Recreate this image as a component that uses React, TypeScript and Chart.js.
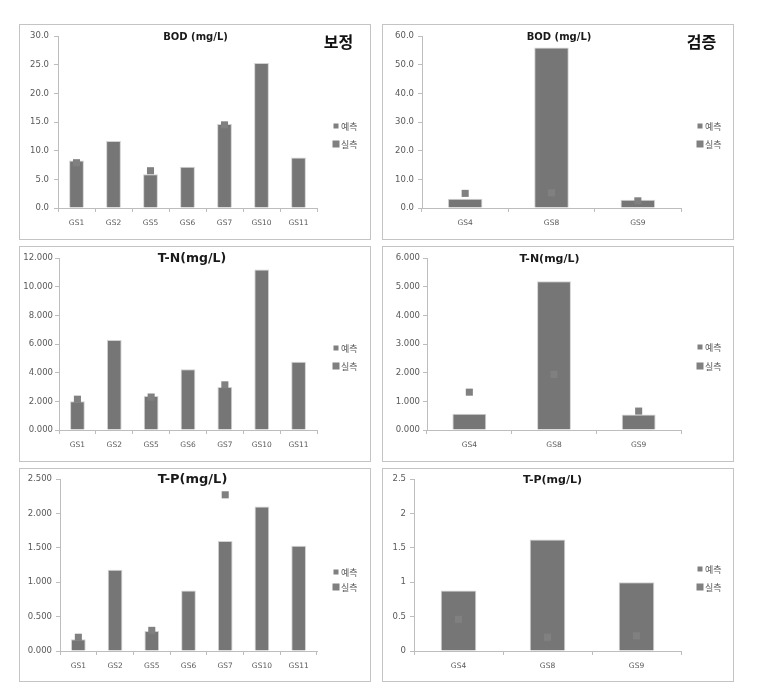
import React, { useEffect, useRef } from 'react';
import { Chart, registerables } from 'chart.js';

Chart.register(...registerables);

// ---------- data ----------
const CAL_SITES = ['GS1', 'GS2', 'GS5', 'GS6', 'GS7', 'GS10', 'GS11'];
const VAL_SITES = ['GS4', 'GS8', 'GS9'];

const LABEL_PRED = '예측';
const LABEL_MEAS = '실측';

const BOD_CAL_MEAS = [8.3, 11.7, 5.9, 7.2, 14.65, 25.3, 8.8];
const BOD_CAL_PRED = [7.9, null, 6.5, null, 14.5, null, null];
const BOD_VAL_MEAS = [3.2, 56.0, 2.9];
const BOD_VAL_PRED = [5.1, 5.3, 2.5];

const TN_CAL_MEAS = [2.0, 6.28, 2.37, 4.23, 3.0, 11.2, 4.77];
const TN_CAL_PRED = [2.15, null, 2.3, null, 3.15, null, null];
const TN_VAL_MEAS = [0.57, 5.19, 0.54];
const TN_VAL_PRED = [1.32, 1.94, 0.66];

const TP_CAL_MEAS = [0.17, 1.18, 0.29, 0.88, 1.6, 2.1, 1.53];
const TP_CAL_PRED = [0.2, null, 0.3, null, 2.27, null, null];
const TP_VAL_MEAS = [0.88, 1.62, 1.0];
const TP_VAL_PRED = [0.46, 0.2, 0.22];

const BOD_CAL_TICKS = ['0.0', '5.0', '10.0', '15.0', '20.0', '25.0', '30.0'];
const BOD_VAL_TICKS = ['0.0', '10.0', '20.0', '30.0', '40.0', '50.0', '60.0'];
const TN_CAL_TICKS = ['0.000', '2.000', '4.000', '6.000', '8.000', '10.000', '12.000'];
const TN_VAL_TICKS = ['0.000', '1.000', '2.000', '3.000', '4.000', '5.000', '6.000'];
const TP_CAL_TICKS = ['0.000', '0.500', '1.000', '1.500', '2.000', '2.500'];
const TP_VAL_TICKS = ['0', '0.5', '1', '1.5', '2', '2.5'];

// ---------- styles ----------
const BAR = '#767676';
const MARK = '#808080';
const AXIS = '#bdbdbd';
const TXT = '#595959';
const LATIN = '"DejaVu Sans", "Liberation Sans", sans-serif';
const KOR = '"Noto Sans CJK KR", sans-serif';

type Panel = {
  key: string;
  x: number; y: number; w: number; h: number;
  cats: string[];
  meas: (number | null)[];
  pred: (number | null)[];
  ticks: string[];
  max: number; step: number;
  title: string; titleSize: number; titleX: number; titleY: number;
  corner?: string;
  left: number; right: number; top: number; bottom: number;
  yPad: number;
  legY1: number; legY2: number;
};

const PANELS: Panel[] = [
  { key: 'p1', x: 19, y: 24, w: 352, h: 216, cats: CAL_SITES, meas: BOD_CAL_MEAS, pred: BOD_CAL_PRED, ticks: BOD_CAL_TICKS, max: 30, step: 5,
    title: 'BOD (mg/L)', titleSize: 10, titleX: 175.5, titleY: 12.5, corner: '보정', left: 38, right: 297, top: 11, bottom: 183, yPad: 5, legY1: 101, legY2: 119 },
  { key: 'p2', x: 382, y: 24, w: 352, h: 216, cats: VAL_SITES, meas: BOD_VAL_MEAS, pred: BOD_VAL_PRED, ticks: BOD_VAL_TICKS, max: 60, step: 10,
    title: 'BOD (mg/L)', titleSize: 10, titleX: 176, titleY: 12.5, corner: '검증', left: 39, right: 298, top: 11, bottom: 183, yPad: 4, legY1: 101, legY2: 119 },
  { key: 'p3', x: 19, y: 246, w: 352, h: 216, cats: CAL_SITES, meas: TN_CAL_MEAS, pred: TN_CAL_PRED, ticks: TN_CAL_TICKS, max: 12, step: 2,
    title: 'T-N(mg/L)', titleSize: 12.5, titleX: 172, titleY: 12, left: 39, right: 297, top: 11, bottom: 183, yPad: 2, legY1: 101, legY2: 119 },
  { key: 'p4', x: 382, y: 246, w: 352, h: 216, cats: VAL_SITES, meas: TN_VAL_MEAS, pred: TN_VAL_PRED, ticks: TN_VAL_TICKS, max: 6, step: 1,
    title: 'T-N(mg/L)', titleSize: 11, titleX: 166.5, titleY: 12, left: 44, right: 298, top: 11, bottom: 183, yPad: 3, legY1: 100, legY2: 119 },
  { key: 'p5', x: 19, y: 468, w: 352, h: 214, cats: CAL_SITES, meas: TP_CAL_MEAS, pred: TP_CAL_PRED, ticks: TP_CAL_TICKS, max: 2.5, step: 0.5,
    title: 'T-P(mg/L)', titleSize: 13, titleX: 172.5, titleY: 11, left: 40, right: 297, top: 10, bottom: 182, yPad: 4, legY1: 103, legY2: 118 },
  { key: 'p6', x: 382, y: 468, w: 352, h: 214, cats: VAL_SITES, meas: TP_VAL_MEAS, pred: TP_VAL_PRED, ticks: TP_VAL_TICKS, max: 2.5, step: 0.5,
    title: 'T-P(mg/L)', titleSize: 11, titleX: 169.5, titleY: 11, left: 31, right: 298, top: 10, bottom: 182, yPad: 4, legY1: 100, legY2: 118 },
];

function ChartPanel({ p }: { p: Panel }) {
  const ref = useRef<HTMLCanvasElement | null>(null);
  const cw = p.w - 2;
  const ch = p.h - 2;

  useEffect(() => {
    const canvas = ref.current;
    if (!canvas) return;

    const decor = {
      id: 'decor',
      afterDraw(chart: any) {
        const ctx = chart.ctx as CanvasRenderingContext2D;
        ctx.save();
        ctx.textAlign = 'center';
        ctx.textBaseline = 'middle';
        ctx.fillStyle = '#1a1a1a';
        ctx.font = `bold ${p.titleSize}px ${LATIN}`;
        ctx.fillText(p.title, p.titleX, p.titleY);
        if (p.corner) {
          ctx.fillStyle = '#111';
          ctx.font = `bold 16px ${KOR}`;
          ctx.fillText(p.corner, 318.5, 17);
        }
        // legend
        const lx = p.right + 19;
        ctx.fillStyle = MARK;
        ctx.fillRect(lx - 2.5, p.legY1 - 2.5, 5, 5);
        ctx.fillRect(lx - 3.5, p.legY2 - 3.5, 7, 7);
        ctx.fillStyle = TXT;
        ctx.textAlign = 'left';
        ctx.font = `9px ${KOR}`;
        ctx.fillText(LABEL_PRED, lx + 5, p.legY1 + 0.5);
        ctx.fillText(LABEL_MEAS, lx + 5, p.legY2 + 0.5);
        ctx.restore();
      },
    };

    const chart = new Chart(canvas, {
      type: 'bar',
      data: {
        labels: p.cats,
        datasets: [
          {
            type: 'line',
            label: LABEL_PRED,
            data: p.pred,
            showLine: false,
            pointStyle: 'rect',
            pointRadius: 5,
            pointBackgroundColor: MARK,
            pointBorderColor: MARK,
            pointBorderWidth: 0,
            order: 0,
          } as any,
          {
            type: 'bar',
            label: LABEL_MEAS,
            data: p.meas,
            backgroundColor: BAR,
            borderColor: '#d2d2d2',
            borderWidth: 1,
            categoryPercentage: 1,
            barPercentage: 0.4,
            order: 1,
          } as any,
        ],
      },
      options: {
        responsive: false,
        maintainAspectRatio: false,
        animation: false,
        layout: { padding: { top: p.top, right: cw - p.right, bottom: 0, left: 0 } },
        plugins: {
          legend: { display: false },
          tooltip: { enabled: false },
          title: { display: false },
        },
        scales: {
          x: {
            type: 'category',
            offset: true,
            grid: { offset: true, drawOnChartArea: false, tickLength: 4, color: AXIS, lineWidth: 1 },
            border: { color: AXIS },
            ticks: { color: TXT, font: { family: LATIN, size: 7.5 }, padding: 7, maxRotation: 0, autoSkip: false },
            afterFit: (s: any) => { s.height = ch - p.bottom; },
          },
          y: {
            min: 0,
            max: p.max,
            ticks: {
              stepSize: p.step,
              color: TXT,
              font: { family: LATIN, size: 8.5 },
              padding: p.yPad,
              callback: (_v: any, i: number) => p.ticks[i],
            },
            grid: { drawOnChartArea: false, tickLength: 4, color: AXIS },
            border: { color: AXIS },
            afterFit: (s: any) => { s.width = p.left; },
          },
        },
      },
      plugins: [decor],
    });

    let alive = true;
    if ((document as any).fonts) {
      Promise.all([
        (document as any).fonts.load(`bold 16px ${KOR}`, '보정검증'),
        (document as any).fonts.load(`9px ${KOR}`, '예측실측'),
        (document as any).fonts.load(`bold 12px ${LATIN}`, 'BOD'),
      ]).then(() => { if (alive) chart.update(); }).catch(() => {});
    }

    return () => { alive = false; chart.destroy(); };
  }, []);

  return (
    <div
      style={{
        position: 'absolute',
        left: p.x,
        top: p.y,
        width: cw,
        height: ch,
        border: '1px solid #c4c4c4',
        background: '#fff',
      }}
    >
      <canvas ref={ref} width={cw} height={ch} style={{ display: 'block', width: cw, height: ch }} />
    </div>
  );
}

export default function App() {
  return (
    <div style={{ position: 'absolute', left: 0, top: 0, width: 762, height: 689, background: '#fff' }}>
      {PANELS.map((p) => (
        <ChartPanel key={p.key} p={p} />
      ))}
    </div>
  );
}
